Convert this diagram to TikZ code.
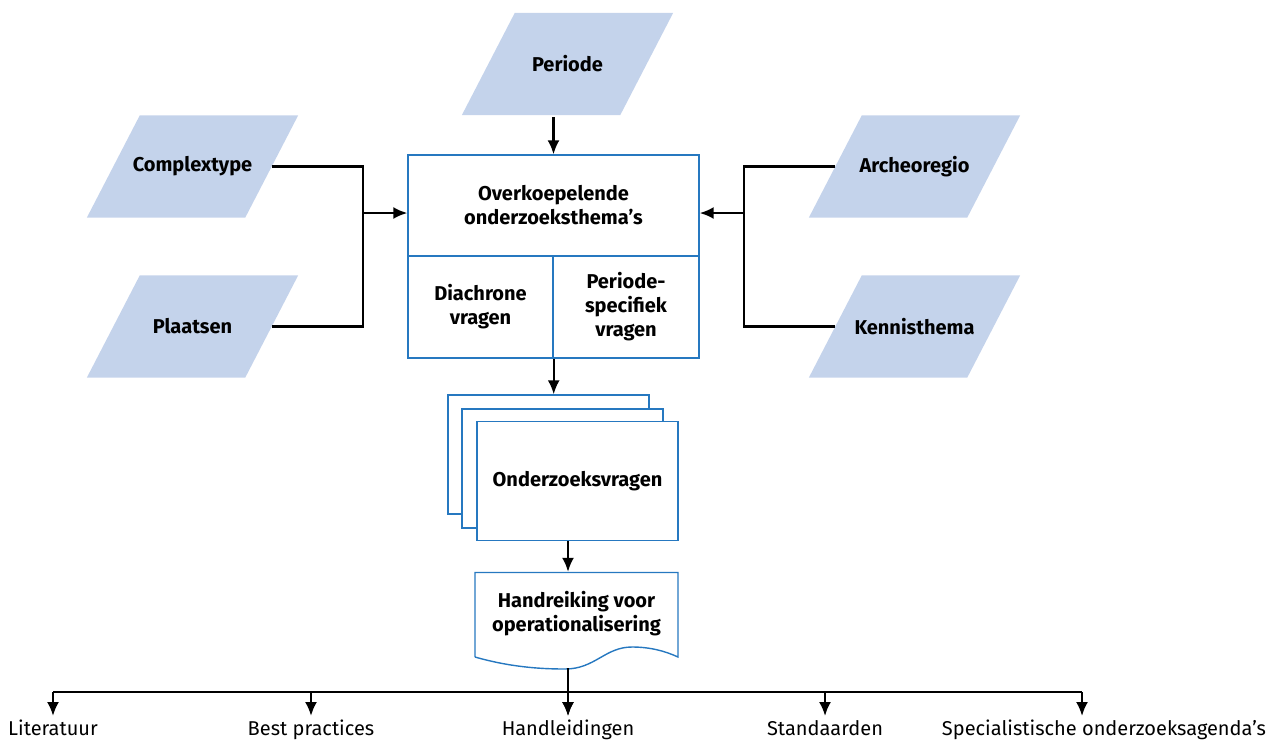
\documentclass[tikz,border=0pt]{standalone}
\usepackage{fontspec}
\setmainfont{Fira Sans}
\usepackage{xcolor}
\usetikzlibrary{arrows.meta,backgrounds}
\definecolor{roblue}{RGB}{38,120,192}
\definecolor{rofill}{RGB}{196,211,235}

\begin{document}
\begin{tikzpicture}[x=1pt,y=-1pt,
  >={Latex[length=14pt,width=12pt]},
  flow/.style={line width=2.2pt},
  datain/.style={minimum width=158pt, minimum height=102pt, inner sep=0pt,
    font=\bfseries\fontsize{20}{24}\selectfont},
  box/.style={draw=roblue, line width=1.4pt, align=center, inner sep=0pt,
    font=\bfseries\fontsize{20}{24}\selectfont},
  sheet/.style={box, fill=white, minimum width=201pt, minimum height=119pt},
  lbl/.style={font=\fontsize{20}{24}\selectfont, inner sep=0pt, anchor=base}]
  \useasboundingbox (0,0) rectangle (1268,740);

  % Input parallelograms
  \node[datain] (per) at (567.5,64) {Periode};
  \node[datain] (cpx) at (192.5,166.5) {Complextype};
  \node[datain] (plt) at (192.5,326.5) {Plaatsen};
  \node[datain] (arc) at (914.5,166.5) {Archeoregio};
  \node[datain] (ken) at (914.5,326.5) {Kennisthema};
  \begin{scope}[on background layer]
    \foreach \n in {per,cpx,plt,arc,ken}
      \fill[rofill] ([xshift=-26.5pt]\n.south west) -- ([xshift=26.5pt]\n.north west)
        -- ([xshift=26.5pt]\n.north east) -- ([xshift=-26.5pt]\n.south east) -- cycle;
  \end{scope}

  % Central box with two columns
  \node[box, minimum width=291pt, minimum height=101pt] (ovk) at (553.5,205.5)
    {Overkoepelende\\onderzoeksthema’s};
  \node[box, minimum width=145pt, minimum height=102pt] (dia) at (480.5,307)
    {Diachrone\\vragen};
  \node[box, minimum width=146pt, minimum height=102pt] (psp) at (626,307)
    {Periode-\\specifiek\\vragen};

  % Inputs into the central box
  \coordinate (jl) at (363,213);
  \coordinate (jr) at (744,213);
  \draw[flow] (cpx.east) -| (jl) |- (plt.east);
  \draw[flow] (arc.west) -| (jr) |- (ken.west);
  \draw[flow,->] (jl) -- (jl -| ovk.west);
  \draw[flow,->] (jr) -- (jr -| psp.east);
  \draw[flow,->] ([yshift=-2pt]per.south -| ovk.north) -- (ovk.north);

  % Stack of question sheets
  \foreach \i/\x/\y in {1/548.5/454.5, 2/562.5/468.5}
    \node[sheet] (sq\i) at (\x,\y) {};
  \node[sheet] (sq3) at (577.5,481) {Onderzoeksvragen};
  \draw[flow,->] (dia.south east) -- (dia.south east |- sq1.north);

  % Document with wavy bottom
  \node[font=\bfseries\fontsize{20}{24}\selectfont, align=center, inner sep=0pt,
    minimum width=203pt, minimum height=84pt] (hnd) at (576.5,614)
    {Handreiking voor\\operationalisering};
  \draw[roblue, line width=1.4pt] (475,657) -- (475,572.5) -- (678,572.5) -- (678,657)
    .. controls (665,651) and (650,647) .. (632,647)
    .. controls (605,647) and (595,669) .. (565,669)
    .. controls (540,669) and (510,667) .. (475,657);

  % Branches to the sources
  \coordinate (bl) at (53,692);
  \coordinate (br) at (1082,692);
  \draw[flow] (bl) -- (br);
  \foreach \x/\n/\t/\dx in {53/lit/Literatuur/0, 311/bpr/Best practices/0,
      568/hl/Handleidingen/0, 825/std/Standaarden/0,
      1082/spc/Specialistische onderzoeksagenda’s/22} {
    \coordinate (\n) at (\x,716);
    \node[lbl] (\n txt) at ([xshift=\dx pt]\x,735) {\t};
    \draw[flow,->] (\n |- bl) -- (\n);
  }

  \draw[flow,->] (sq3.south -| hl) -- (hnd.north -| hl);
  \draw[flow,->, shorten <=12pt] (hnd.south -| hl) -- (hl);

\end{tikzpicture}
\end{document}
